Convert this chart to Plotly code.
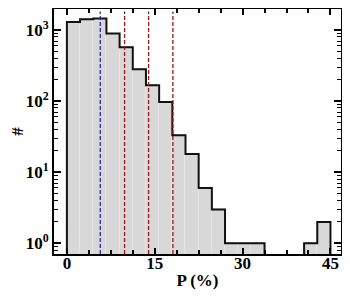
import plotly.graph_objects as go

# histogram bin edges (P in %) and counts per bin
bin_edges = [0, 2.25, 4.5, 6.75, 9, 11.25, 13.5, 15.75, 18, 20.25, 22.5,
             24.75, 27, 29.25, 31.5, 33.75, 36, 38.25, 40.5, 42.75, 45]
counts = [1290, 1410, 1450, 890, 570, 280, 167, 97, 33, 18, 6, 3,
          1, 1, 1, 0, 0, 0, 1, 2]

# vertical reference lines
blue_lines = [5.7]
red_lines = [9.85, 13.95, 18.1]

x_ticks = [0, 15, 30, 45]
y_tickvals = [1, 10, 100, 1000]
y_ticktext = ["10<sup>0</sup>", "10<sup>1</sup>", "10<sup>2</sup>", "10<sup>3</sup>"]

FLOOR = 0.01
centers = [(a + b) / 2 for a, b in zip(bin_edges[:-1], bin_edges[1:])]
widths = [b - a for a, b in zip(bin_edges[:-1], bin_edges[1:])]
bar_y = [c if c > 0 else None for c in counts]

fig = go.Figure()
fig.add_trace(go.Bar(
    x=centers, y=bar_y, width=widths,
    marker=dict(color="#d8d8d8", line=dict(color="#e6e6e6", width=1)),
    showlegend=False, hoverinfo="skip"))

step_x = [bin_edges[0]] + bin_edges[:-1] + [bin_edges[-1]]
step_y = [FLOOR] + [c if c > 0 else FLOOR for c in counts] + [FLOOR]
fig.add_trace(go.Scatter(
    x=step_x, y=step_y, mode="lines", line=dict(color="#111111", width=2, shape="hv"),
    showlegend=False, hoverinfo="skip"))

for xv in blue_lines:
    fig.add_shape(type="line", xref="x", yref="paper", x0=xv, x1=xv, y0=0, y1=0.99,
                  line=dict(color="#2a2ab4", width=1.3, dash="4px,2px"))
for xv in red_lines:
    fig.add_shape(type="line", xref="x", yref="paper", x0=xv, x1=xv, y0=0, y1=0.99,
                  line=dict(color="#9e1515", width=1.3, dash="4px,2px"))

font = dict(family="Liberation Serif", size=17, color="black")
minor_y = [m * 10 ** d for d in range(-1, 4) for m in range(2, 10)]

fig.update_layout(
    width=342, height=292,
    margin=dict(l=46, r=8.5, t=1, b=46, autoexpand=False),
    paper_bgcolor="white", plot_bgcolor="white",
    font=font, bargap=0,
    xaxis=dict(
        range=[-2.2, 46.8], tickmode="array", tickvals=x_ticks,
        ticktext=["<b>%d</b>" % v for v in x_ticks],
        ticks="inside", ticklen=6, tickwidth=2, tickcolor="black",
        showline=True, linewidth=2, linecolor="black", mirror="allticks",
        showgrid=False, zeroline=False, automargin=False,
        ticklabelstandoff=-7,
        minor=dict(dtick=3.75, tick0=0, ticks="inside", ticklen=4, tickwidth=1.5,
                   tickcolor="black", showgrid=False),
        title=dict(text="<b>P (%)</b>", font=font, standoff=2),
        tickfont=font,
    ),
    yaxis=dict(
        type="log", range=[-0.15, 3.295],
        tickmode="array", tickvals=y_tickvals,
        ticktext=["<b>%s</b>" % t for t in y_ticktext],
        ticks="inside", ticklen=7, tickwidth=2, tickcolor="black",
        showline=True, linewidth=2, linecolor="black", mirror="allticks",
        showgrid=False, zeroline=False, automargin=False,
        minor=dict(tickmode="array", tickvals=minor_y, ticks="inside", ticklen=4,
                   tickwidth=1.2, tickcolor="black", showgrid=False),
        title=dict(text="<b>#</b>", font=font, standoff=4),
        tickfont=font,
    ),
)

fig.write_html("out.html")
